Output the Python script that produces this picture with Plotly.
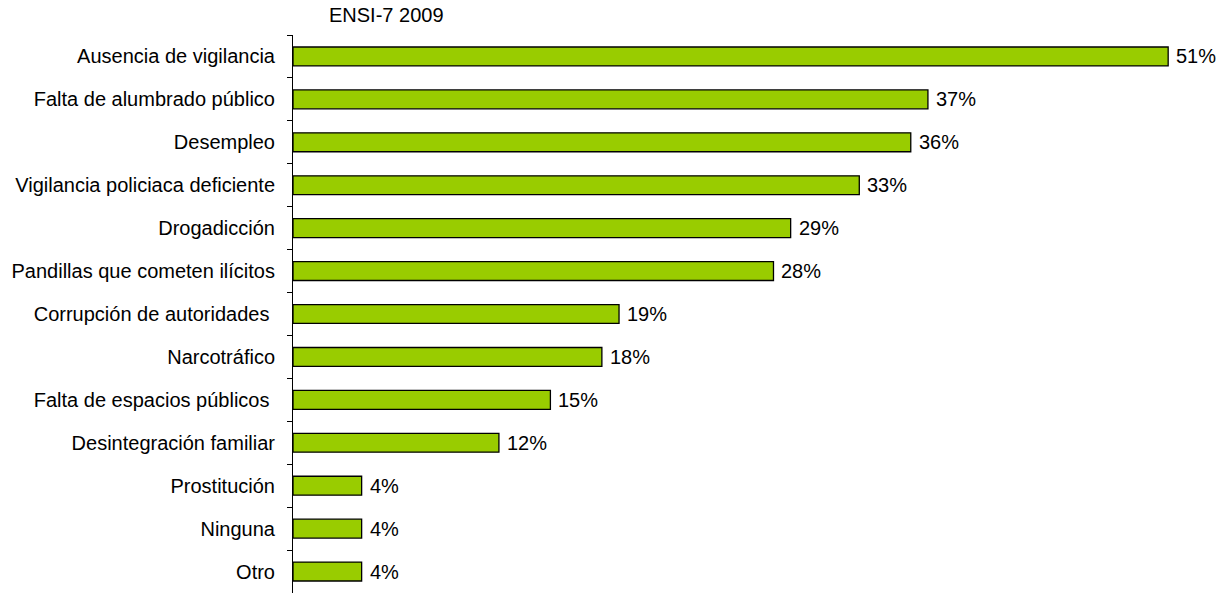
import plotly.graph_objects as go

categories = [
    "Ausencia de vigilancia",
    "Falta de alumbrado público",
    "Desempleo",
    "Vigilancia policiaca deficiente",
    "Drogadicción",
    "Pandillas que cometen ilícitos",
    "Corrupción de autoridades\u00a0",
    "Narcotráfico",
    "Falta de espacios públicos\u00a0",
    "Desintegración familiar",
    "Prostitución",
    "Ninguna",
    "Otro",
]
values = [51, 37, 36, 33, 29, 28, 19, 18, 15, 12, 4, 4, 4]
value_labels = [f"{v}%" for v in values]
title_text = "ENSI-7 2009"

font_family = "Liberation Sans, Arial, sans-serif"
font_size = 20

W, H = 1226, 593
L, R, T, B = 293, 0, 35, 0

fig = go.Figure(
    go.Bar(
        x=values,
        y=categories,
        orientation="h",
        width=0.44,
        marker=dict(color="#99CC00", line=dict(color="#000000", width=1.3)),
        hoverinfo="x+y",
    )
)

# value labels just to the right of each bar end
annotations = [
    dict(
        x=v,
        y=c,
        xref="x",
        yref="y",
        text=t,
        showarrow=False,
        xanchor="left",
        yanchor="middle",
        xshift=6,
        font=dict(family=font_family, size=font_size, color="#000000"),
    )
    for v, c, t in zip(values, categories, value_labels)
]

# chart heading above the axis
annotations.append(
    dict(
        text=title_text,
        x=(327 - L) / (W - L - R),
        y=1 + (T - 15) / (H - T - B),
        xref="paper",
        yref="paper",
        xanchor="left",
        yanchor="middle",
        showarrow=False,
        font=dict(family=font_family, size=font_size, color="#000000"),
    )
)

fig.update_layout(
    width=W,
    height=H,
    margin=dict(l=L, r=R, t=T, b=B),
    paper_bgcolor="white",
    plot_bgcolor="white",
    showlegend=False,
    font=dict(family=font_family, size=font_size, color="#000000"),
    xaxis=dict(
        range=[0, 54.37],
        visible=False,
    ),
    yaxis=dict(
        categoryorder="array",
        categoryarray=categories[::-1],
        autorange=False,
        range=[-0.5, 12.5],
        showline=True,
        linecolor="#000000",
        linewidth=1,
        ticks="outside",
        tickson="boundaries",
        ticklen=5,
        tickcolor="#000000",
        ticklabelstandoff=13,
        showgrid=False,
        tickfont=dict(family=font_family, size=font_size, color="#000000"),
    ),
    annotations=annotations,
)

fig.write_html("out.html")
